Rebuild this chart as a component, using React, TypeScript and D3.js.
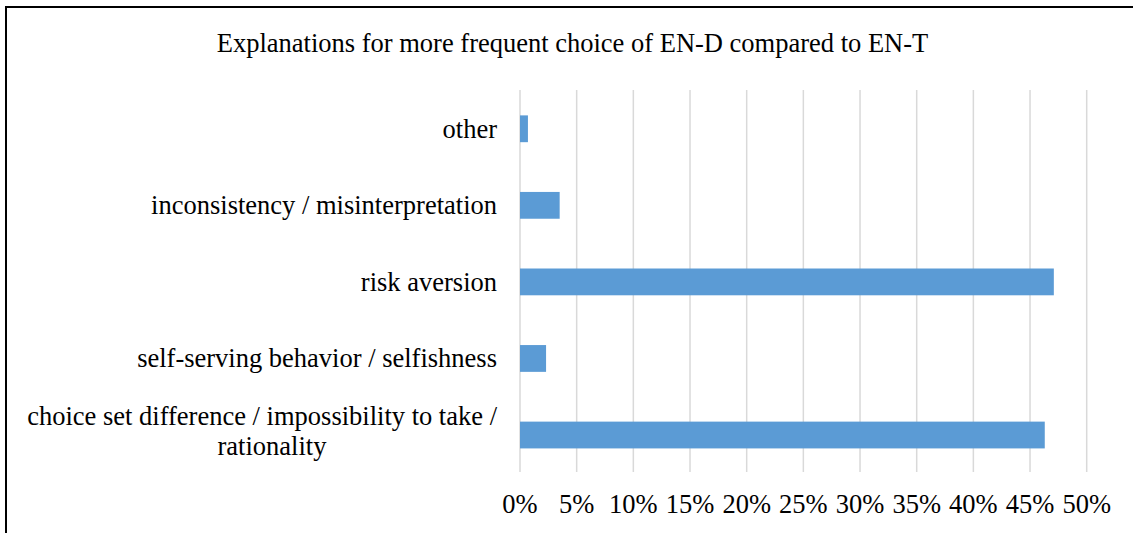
import React from "react";
import * as d3 from "d3";

// Shares of explanations (in %), top to bottom as drawn
const categories = [
  "other",
  "inconsistency / misinterpretation",
  "risk aversion",
  "self-serving behavior / selfishness",
  "choice set difference / impossibility to take / rationality",
];
const values = [0.7, 3.5, 47.1, 2.3, 46.3];
const tickValues = [0, 5, 10, 15, 20, 25, 30, 35, 40, 45, 50];
const title = "Explanations for more frequent choice of EN-D compared to EN-T";

// Labels that wrap onto two lines in the category axis
const wrappedLines: Record<string, string[]> = {
  "choice set difference / impossibility to take / rationality": [
    "choice set difference / impossibility to take /",
    "rationality",
  ],
};

const W = 1133;
const H = 533;
const FONT = "Liberation Serif, Times New Roman, serif";
const FS = 26.5;

export default function App() {
  const x = d3.scaleLinear().domain([0, 50]).range([520, 1086.7]);
  const y = d3
    .scaleBand<string>()
    .domain(categories)
    .range([90.5, 473.3])
    .paddingInner(0.65)
    .paddingOuter(0.325);

  const labelRight = 497;

  return (
    <svg
      width={W}
      height={H}
      style={{ position: "absolute", left: 0, top: 0, background: "#fff", fontFamily: FONT }}
    >
      {/* chart frame (top and left edges) */}
      <line x1={6} y1={7} x2={W} y2={7} stroke="#000" strokeWidth={2} />
      <line x1={6} y1={6} x2={6} y2={H} stroke="#000" strokeWidth={2} />

      <text x={572.5} y={51.7} textAnchor="middle" fontSize={FS} fill="#000">
        {title}
      </text>

      {/* vertical gridlines */}
      {tickValues.map((t) => (
        <line
          key={"g" + t}
          x1={x(t)}
          x2={x(t)}
          y1={90}
          y2={472}
          stroke="#d9d9d9"
          strokeWidth={1.5}
        />
      ))}

      {/* bars */}
      {categories.map((c, i) => (
        <rect
          key={c}
          x={x(0)}
          y={y(c)!}
          width={x(values[i]) - x(0)}
          height={y.bandwidth()}
          fill="#5b9bd5"
        />
      ))}

      {/* category labels */}
      {categories.map((c) => {
        const yc = y(c)! + y.bandwidth() / 2;
        const lines = wrappedLines[c];
        if (lines) {
          return (
            <g key={"l" + c} fontSize={FS} fill="#000">
              <text x={labelRight} y={yc - 10} textAnchor="end">
                {lines[0]}
              </text>
              <text x={272} y={yc + 20} textAnchor="middle">
                {lines[1]}
              </text>
            </g>
          );
        }
        return (
          <text
            key={"l" + c}
            x={labelRight}
            y={yc + 9}
            textAnchor="end"
            fontSize={FS}
            fill="#000"
          >
            {c}
          </text>
        );
      })}

      {/* value axis tick labels */}
      {tickValues.map((t) => (
        <text
          key={"t" + t}
          x={x(t)}
          y={513}
          textAnchor="middle"
          fontSize={FS}
          fill="#000"
        >
          {t + "%"}
        </text>
      ))}
    </svg>
  );
}
